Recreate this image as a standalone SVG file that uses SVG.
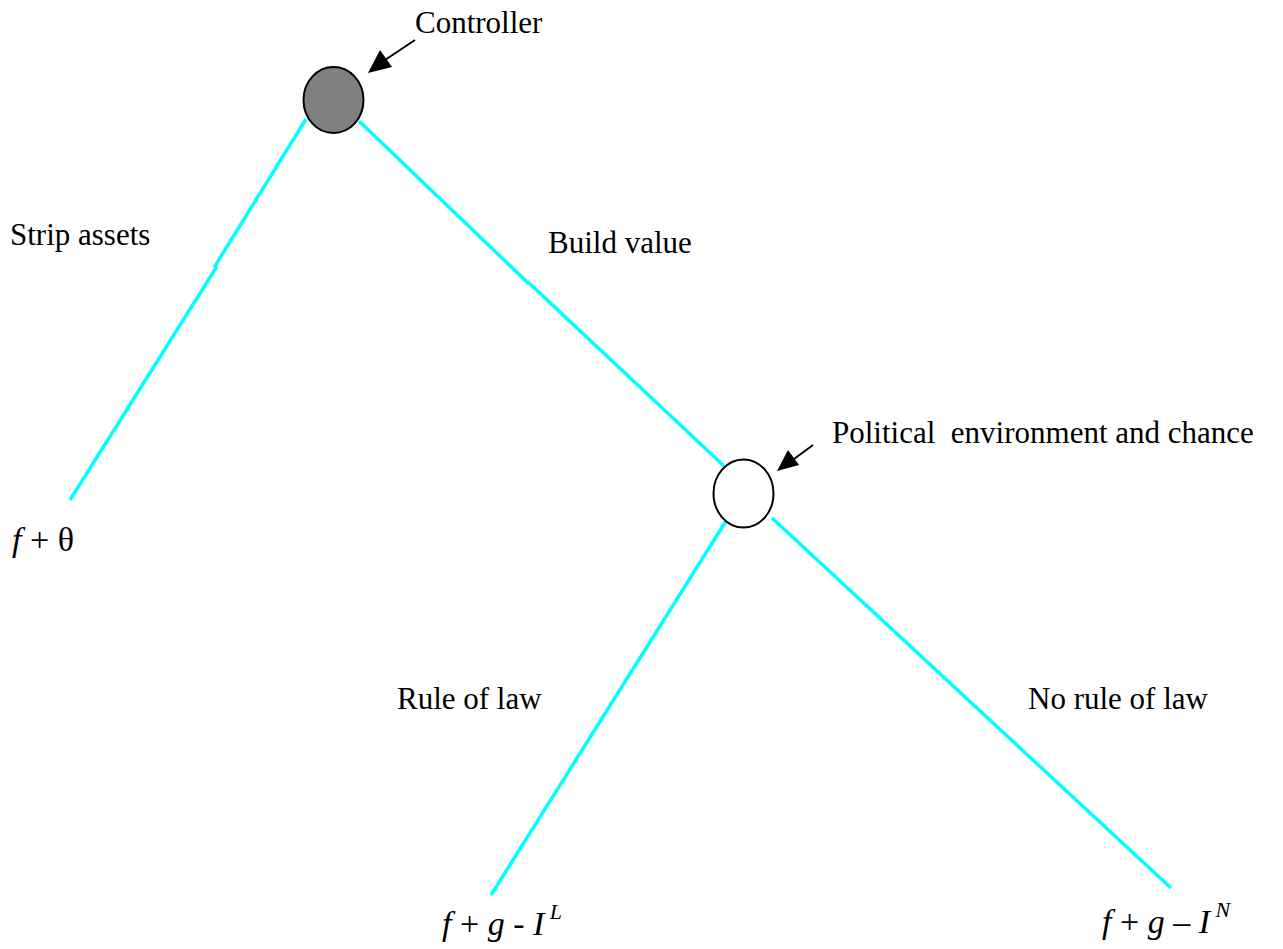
<svg xmlns="http://www.w3.org/2000/svg" width="1283" height="949" viewBox="0 0 1283 949">
<style>
text{font-family:"Liberation Serif","DejaVu Serif","Times New Roman",Times,serif;font-size:31px;fill:#000;white-space:pre}
.i{font-style:italic}
.m{font-size:34px}
.edge{fill:none;stroke:#00ffff;stroke-width:3.5}
.ptr{stroke:#000;stroke-width:2;fill:none}
</style>
<g id="connectors">
<polyline class="edge" points="306,119 215,266 216,268 70,500"/>
<polyline class="edge" points="359,121 527,282 529,283 724,466"/>
<line class="edge" x1="726" y1="521" x2="491" y2="895"/>
<line class="edge" x1="772" y1="518" x2="1171" y2="888"/>
</g>
<g id="controller">
<ellipse cx="333.5" cy="100" rx="30" ry="33" fill="#808080" stroke="#000" stroke-width="2"/>
<path d="M415,40 L385,60" class="ptr"/>
<path d="M368,73 L380,50 L392,67 z" fill="#000"/>
<text x="415" y="33" font-family="Liberation Serif, serif">Controller</text>
</g>
<g id="political">
<ellipse cx="743.5" cy="493.5" rx="30" ry="34" fill="#fff" stroke="#000" stroke-width="2"/>
<path d="M813,445 L794,459" class="ptr"/>
<path d="M777,471 L788,450 L799,465 z" fill="#000"/>
<text x="832" y="443">Political  environment and chance</text>
</g>
<g id="labels">
<text x="10" y="245">Strip assets</text>
<text x="548" y="253">Build value</text>
<text x="397" y="709">Rule of law</text>
<text x="1028" y="709">No rule of law</text>
</g>
<g id="payoffs">
<text class="m" x="12" y="551"><tspan class="i">f</tspan> + θ</text>
<text class="m" x="442" y="935"><tspan class="i">f</tspan> + <tspan class="i">g</tspan> - <tspan class="i">I</tspan><tspan class="i" font-size="22" dy="-16"> L</tspan></text>
<text class="m" x="1102" y="933"><tspan class="i">f</tspan> + <tspan class="i">g</tspan> – <tspan class="i">I</tspan><tspan class="i" font-size="22" dy="-16"> N</tspan></text>
</g>
</svg>
